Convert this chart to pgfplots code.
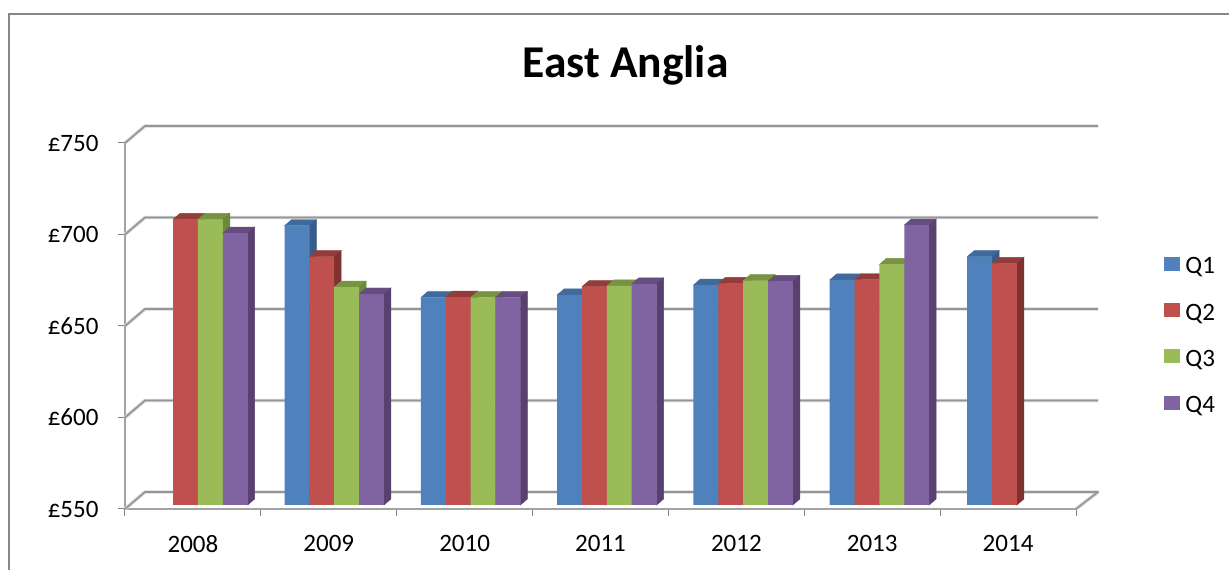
\documentclass[border=0pt]{standalone}
\usepackage{pgfplots}
\usepackage{fontspec}
\setmainfont{Carlito}
\pgfplotsset{compat=1.18}
\usepackage{pgfplotstable}
\definecolor{qa}{HTML}{4F81BD}\definecolor{qas}{HTML}{375C89}\definecolor{qat}{HTML}{3F6A9C}
\definecolor{qb}{HTML}{C0504D}\definecolor{qbs}{HTML}{7F3230}\definecolor{qbt}{HTML}{943C3A}
\definecolor{qc}{HTML}{9BBB59}\definecolor{qcs}{HTML}{6B8A38}\definecolor{qct}{HTML}{789440}
\definecolor{qd}{HTML}{8064A2}\definecolor{qds}{HTML}{58406F}\definecolor{qdt}{HTML}{654D82}
\definecolor{gridc}{HTML}{959595}\definecolor{gridl}{HTML}{D6D6D6}
\pgfplotstableread{
x y
1.540 702.6
2.544 663.4
3.547 664.8
4.550 670.2
5.553 673.0
6.565 685.7
}\tQa
\pgfplotstableread{
x y
0.537 706.1
1.540 685.7
2.544 663.6
3.547 669.3
4.550 671.1
5.553 673.1
6.565 682.0
}\tQb
\pgfplotstableread{
x y
0.537 706.1
1.540 669.1
2.544 663.4
3.547 669.8
4.550 672.6
5.553 681.5
}\tQc
\pgfplotstableread{
x y
0.537 698.6
1.540 665.3
2.544 663.4
3.547 670.8
4.550 672.2
5.553 703.0
}\tQd
\pgfplotsset{
  barface/.style args={#1/#2/#3}{
    ybar, bar width=24.85pt, bar shift=#1pt, yshift=4pt, draw=none, fill=#2,
    area legend,
    legend image code/.code={\fill[#2] (0pt,-7pt) rectangle (16pt,7pt);}
  },
  barsides/.style args={#1/#2/#3}{
    forget plot, only marks, scatter, mark=none, yshift=4pt,
    visualization depends on={\thisrow{y} \as \barval},
    scatter/@pre marker code/.code={%
      \pgfmathsetmacro\barh{(\barval-550)*1.83}%
      \pgfmathsetmacro\xa{#1-12.425}%
      \pgfmathsetmacro\xb{#1+12.425}%
      \scope
      \fill[#3] (\xa pt,0pt) -- ++(7pt,6pt) -- (\xb pt+7pt,6pt) -- (\xb pt,0pt) -- cycle;
      \fill[#2] (\xb pt,0pt) -- ++(7pt,6pt) -- ++(0pt,-\barh pt) -- ++(-7pt,-6pt) -- cycle;
    },
    scatter/@post marker code/.code={\endscope}
  },
  gridl/.style={forget plot, no marks, line join=round, draw=gridc, line width=1.6pt,
    preaction={draw=gridl, line width=3.4pt}}
}
\begin{document}
\begin{tikzpicture}
\fontsize{25}{28}\selectfont
\path[use as bounding box, fill=white] (-125pt,-61pt) rectangle (1104pt,509pt);
\draw[color=black!47, line width=1.5pt] (-116pt,-61pt) -- (-116pt,495pt) -- (1104pt,495pt);
\begin{axis}[
  at={(0pt,0pt)}, anchor=origin,
  scale only axis, width=951pt, height=366pt,
  xmin=0, xmax=7, ymin=550, ymax=750,
  clip=false, clip mode=individual,
  axis x line=bottom, axis y line=left,
  axis line style={-, draw=black!36, line width=2.2pt},
  xtick={0,1,2,3,4,5,6,7},
  x tick label as interval,
  xticklabels={2008,2009,2010,2011,2012,2013,2014},
  ytick={550,600,650,700,750},
  yticklabels={£550,£600,£650,£700,£750},
  tick align=outside, major tick length=7pt,
  tick style={draw=black!50, line width=1pt},
  xticklabel style={font=\fontsize{25}{28}\selectfont, yshift=-11pt},
  yticklabel style={font=\fontsize{25}{28}\selectfont, xshift=-11pt},
  title={East Anglia},
  title style={at={(0.5263,1)}, anchor=center, yshift=72pt, font=\fontsize{45.5}{50}\selectfont\bfseries},
  legend style={at={(1.0928,0.693)}, anchor=north west, draw=none, fill=none,
    font=\fontsize{25}{28}\selectfont, row sep=22.4pt, inner sep=0pt,
    nodes={inner xsep=5pt}},
  legend cell align=left,
]
\addplot[gridl] coordinates {(0,550) (0.1472,559.3) (7.162,559.3) (7,550)};
\addplot[gridl] coordinates {(0,600) (0.1472,609.3) (7.162,609.3)};
\addplot[gridl] coordinates {(0,650) (0.1472,659.3) (7.162,659.3)};
\addplot[gridl] coordinates {(0,700) (0.1472,709.3) (7.162,709.3)};
\addplot[gridl] coordinates {(0,750) (0.1472,759.3) (7.162,759.3)};

\addplot[barsides={-37.275/qas/qat}] table[x=x,y=y] {\tQa};
\addplot[barface={-37.275/qa/qa}] table[x=x,y=y] {\tQa};
\addlegendentry{Q1}
\addplot[barsides={-12.425/qbs/qbt}] table[x=x,y=y] {\tQb};
\addplot[barface={-12.425/qb/qb}] table[x=x,y=y] {\tQb};
\addlegendentry{Q2}
\addplot[barsides={12.425/qcs/qct}] table[x=x,y=y] {\tQc};
\addplot[barface={12.425/qc/qc}] table[x=x,y=y] {\tQc};
\addlegendentry{Q3}
\addplot[barsides={37.275/qds/qdt}] table[x=x,y=y] {\tQd};
\addplot[barface={37.275/qd/qd}] table[x=x,y=y] {\tQd};
\addlegendentry{Q4}
\end{axis}
\end{tikzpicture}
\end{document}
